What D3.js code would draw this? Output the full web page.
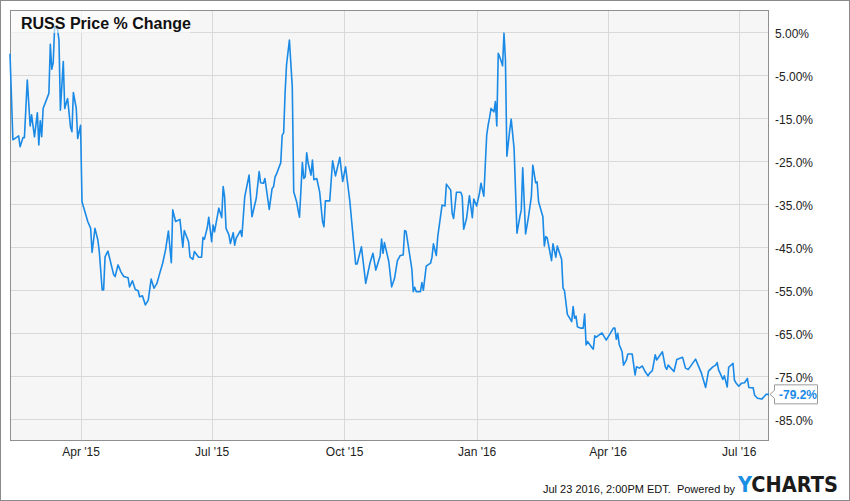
<!DOCTYPE html>
<html><head><meta charset="utf-8">
<script src="https://cdn.jsdelivr.net/npm/d3@7"></script>
<style>
html,body{margin:0;padding:0;background:#fff;}
svg{display:block;font-family:"Liberation Sans",Arial,sans-serif;}
</style></head>
<body><svg id="c" width="850" height="501"></svg>
<script>
const title = "RUSS Price % Change";
const dates = ["2015-02-11","2015-02-13","2015-02-17","2015-02-18","2015-02-20","2015-02-21","2015-02-23","2015-02-25","2015-02-26","2015-02-28",
"2015-03-02","2015-03-03","2015-03-04","2015-03-05","2015-03-06","2015-03-10","2015-03-11","2015-03-12","2015-03-13","2015-03-14",
"2015-03-15","2015-03-16","2015-03-17","2015-03-18","2015-03-20","2015-03-21","2015-03-22","2015-03-23","2015-03-25","2015-03-26",
"2015-03-27","2015-03-29","2015-03-30","2015-04-01","2015-04-02","2015-04-06","2015-04-08","2015-04-09","2015-04-11","2015-04-13",
"2015-04-14","2015-04-16","2015-04-17","2015-04-18","2015-04-20","2015-04-24","2015-04-25","2015-04-27","2015-04-29","2015-05-01",
"2015-05-04","2015-05-05","2015-05-07","2015-05-09","2015-05-11","2015-05-12","2015-05-14","2015-05-16","2015-05-18","2015-05-20",
"2015-05-22","2015-05-24","2015-05-26","2015-05-28","2015-05-30","2015-06-01","2015-06-03","2015-06-04","2015-06-06","2015-06-09",
"2015-06-11","2015-06-12","2015-06-15","2015-06-16","2015-06-18","2015-06-19","2015-06-22","2015-06-24","2015-06-25","2015-06-26",
"2015-06-28","2015-06-29","2015-07-01","2015-07-02","2015-07-03","2015-07-06","2015-07-08","2015-07-09","2015-07-10","2015-07-11",
"2015-07-13","2015-07-14","2015-07-16","2015-07-17","2015-07-18","2015-07-21","2015-07-22","2015-07-24","2015-07-27","2015-07-29",
"2015-08-01","2015-08-03","2015-08-04","2015-08-06","2015-08-07","2015-08-10","2015-08-12","2015-08-13","2015-08-14","2015-08-15",
"2015-08-18","2015-08-19","2015-08-20","2015-08-21","2015-08-22","2015-08-24","2015-08-26","2015-08-27","2015-08-29","2015-08-30",
"2015-08-31","2015-09-02","2015-09-03","2015-09-04","2015-09-05","2015-09-06","2015-09-08","2015-09-09","2015-09-10","2015-09-12",
"2015-09-14","2015-09-16","2015-09-17","2015-09-18","2015-09-21","2015-09-23","2015-09-25","2015-09-28","2015-09-30","2015-10-02",
"2015-10-05","2015-10-07","2015-10-09","2015-10-10","2015-10-13","2015-10-16","2015-10-19","2015-10-21","2015-10-23","2015-10-26",
"2015-10-27","2015-10-28","2015-10-29","2015-11-01","2015-11-03","2015-11-05","2015-11-07","2015-11-09","2015-11-11","2015-11-12",
"2015-11-13","2015-11-17","2015-11-18","2015-11-19","2015-11-20","2015-11-23","2015-11-24","2015-11-25","2015-11-27","2015-11-30",
"2015-12-01","2015-12-02","2015-12-04","2015-12-05","2015-12-08","2015-12-09","2015-12-10","2015-12-11","2015-12-14","2015-12-15",
"2015-12-16","2015-12-18","2015-12-21","2015-12-22","2015-12-23","2015-12-25","2015-12-27","2015-12-29","2015-12-30","2016-01-01",
"2016-01-03","2016-01-04","2016-01-06","2016-01-07","2016-01-08","2016-01-09","2016-01-10","2016-01-11","2016-01-13","2016-01-14",
"2016-01-15","2016-01-16","2016-01-17","2016-01-18","2016-01-19","2016-01-20","2016-01-21","2016-01-22","2016-01-24","2016-01-25",
"2016-01-27","2016-01-28","2016-01-29","2016-01-31","2016-02-01","2016-02-02","2016-02-04","2016-02-06","2016-02-08","2016-02-09",
"2016-02-11","2016-02-12","2016-02-13","2016-02-16","2016-02-17","2016-02-18","2016-02-19","2016-02-22","2016-02-23","2016-02-25",
"2016-02-26","2016-02-29","2016-03-01","2016-03-02","2016-03-04","2016-03-06","2016-03-07","2016-03-08","2016-03-09","2016-03-10",
"2016-03-11","2016-03-13","2016-03-15","2016-03-16","2016-03-17","2016-03-18","2016-03-21","2016-03-22","2016-03-23","2016-03-24",
"2016-03-28","2016-03-31","2016-04-03","2016-04-05","2016-04-06","2016-04-07","2016-04-08","2016-04-09","2016-04-11","2016-04-12",
"2016-04-14","2016-04-15","2016-04-18","2016-04-20","2016-04-21","2016-04-23","2016-04-25","2016-04-27","2016-04-29","2016-04-30",
"2016-05-02","2016-05-04","2016-05-05","2016-05-09","2016-05-11","2016-05-12","2016-05-13","2016-05-17","2016-05-19","2016-05-23",
"2016-05-25","2016-05-27","2016-06-01","2016-06-04","2016-06-05","2016-06-08","2016-06-10","2016-06-13","2016-06-15","2016-06-16",
"2016-06-17","2016-06-20","2016-06-21","2016-06-23","2016-06-24","2016-06-27","2016-06-28","2016-06-29","2016-07-01","2016-07-03",
"2016-07-05","2016-07-07","2016-07-08","2016-07-11","2016-07-12","2016-07-14","2016-07-17","2016-07-19","2016-07-20","2016-07-22"];
const values = [0,-20.0,-19.1,-21.6,-19.5,-19.5,-6.1,-16.8,-14.2,-19.3,
-13.7,-21.2,-15.6,-19.3,-12.7,-9.2,2.2,-3.6,-2.1,6.3,
6.0,5.7,3.2,-13.1,-1.8,-12.7,-11.5,-10.4,-17.0,-18.1,
-9.0,-12.7,-19.7,-16.6,-34.4,-39.0,-40.6,-46.2,-40.6,-43.3,
-46.0,-54.9,-54.9,-47.2,-45.9,-51.4,-51.8,-49.1,-50.7,-51.8,
-52.1,-54.2,-52.8,-54.8,-55.1,-56.5,-56.3,-58.4,-57.3,-52.4,
-54.5,-53.4,-51.0,-48.7,-45.6,-41.2,-48.6,-36.3,-39.0,-38.5,
-45.0,-41.1,-43.7,-47.3,-47.8,-46.0,-47.3,-47.3,-42.7,-43.1,
-40.4,-38.0,-43.7,-39.8,-41.4,-35.9,-38.1,-30.9,-33.2,-40.6,
-42.1,-44.1,-41.6,-44.5,-42.9,-41.1,-42.5,-33.2,-28.2,-37.9,
-33.6,-27.4,-30.0,-30.1,-29.0,-36.2,-31.3,-30.9,-28.7,-28.0,
-25.3,-18.9,-18.4,-9.2,-2.6,3.2,-7.7,-32.1,-34.4,-36.3,
-38.0,-25.3,-29.0,-28.6,-23.0,-25.4,-28.2,-24.7,-29.3,-29.0,
-32.1,-39.0,-40.2,-34.2,-34.2,-24.9,-28.4,-24.1,-29.7,-26.3,
-34.4,-41.7,-48.9,-48.9,-44.9,-53.4,-48.6,-46.4,-50.3,-47.0,
-43.1,-46.4,-43.9,-48.3,-54.2,-52.2,-48.1,-46.9,-46.8,-41.1,
-41.3,-50.0,-55.3,-54.3,-55.3,-55.3,-53.2,-55.0,-49.4,-48.7,
-47.3,-44.2,-46.9,-42.5,-35.2,-35.3,-35.4,-30.3,-31.7,-37.1,
-38.3,-32.2,-32.2,-33.2,-40.8,-38.3,-33.0,-38.1,-33.8,-35.4,
-32.4,-30.1,-33.1,-25.9,-18.9,-16.6,-14.8,-12.7,-13.5,-11.1,
-16.8,0.1,-0.7,-1.7,-2.8,4.8,-1.4,-23.8,-17.7,-15.2,
-22.0,-31.7,-41.7,-37.9,-36.3,-26.5,-41.9,-37.9,-33.2,-25.9,
-30.0,-29.8,-34.4,-37.9,-44.7,-42.5,-42.8,-48.1,-44.2,-47.3,
-44.7,-47.8,-54.5,-55.1,-60.6,-61.7,-62.3,-58.8,-61.5,-61.0,
-63.5,-63.8,-63.8,-60.5,-67.7,-66.9,-68.3,-68.7,-65.6,-65.9,
-64.9,-66.6,-64.9,-63.8,-63.8,-66.4,-65.0,-67.6,-69.3,-72.4,
-71.2,-69.8,-69.8,-74.7,-72.8,-73.1,-72.6,-73.9,-74.9,-74.3,
-73.7,-70.0,-71.2,-69.3,-72.8,-73.4,-72.4,-73.9,-71.1,-70.6,
-73.1,-73.4,-71.0,-73.4,-74.2,-77.6,-73.8,-72.8,-72.4,-71.8,
-73.5,-75.7,-74.9,-77.5,-72.9,-72.0,-75.9,-76.5,-77.3,-76.6,
-76.5,-75.5,-77.6,-77.7,-79.4,-80.1,-80.3,-79.6,-79.2,-79.2];
const yTicks = [5,-5,-15,-25,-35,-45,-55,-65,-75,-85];
const yTickLabels = ["5.00%","-5.00%","-15.0%","-25.0%","-35.0%","-45.0%","-55.0%","-65.0%","-75.0%","-85.0%"];
const xTicks = ["2015-04-01","2015-07-01","2015-10-01","2016-01-01","2016-04-01","2016-07-01"];
const xTickLabels = ["Apr '15","Jul '15","Oct '15","Jan '16","Apr '16","Jul '16"];
const lastLabel = "-79.2%";
const footerText = "Jul 23 2016, 2:00PM EDT.  Powered by";
const yDomain = [-90.05, 10.19];

const parse = d3.timeParse("%Y-%m-%d");
const data = dates.map((d,i)=>({date:parse(d), value:values[i]}));
const svg = d3.select("#c");
const L=10, R=769, T=10, B=441;
const blue = "#1a8ae6";

const x = d3.scaleTime().domain([data[0].date, data[data.length-1].date]).range([L,R]);
const y = d3.scaleLinear().domain(yDomain).range([B,T]);

// outer frame
svg.append("rect").attr("x",0.5).attr("y",0.5).attr("width",849).attr("height",500)
  .attr("fill","#fff").attr("stroke","#8a8a8a");
// plot bg
svg.append("rect").attr("x",L).attr("y",T).attr("width",R-L).attr("height",B-T).attr("fill","#f6f6f6");

// grid
const g = svg.append("g");
g.selectAll("line.h").data(yTicks).join("line")
  .attr("x1",L).attr("x2",R).attr("y1",d=>Math.round(y(d))+0.5).attr("y2",d=>Math.round(y(d))+0.5)
  .attr("stroke","#d9d9d9").attr("stroke-width",1);
g.selectAll("line.v").data(xTicks.map(parse)).join("line")
  .attr("y1",T).attr("y2",B).attr("x1",d=>Math.round(x(d))+0.5).attr("x2",d=>Math.round(x(d))+0.5)
  .attr("stroke","#d9d9d9").attr("stroke-width",1);

// plot border
svg.append("rect").attr("x",L+0.5).attr("y",T+0.5).attr("width",R-L-1).attr("height",B-T-1)
  .attr("fill","none").attr("stroke","#8f8f8f");

// line
const line = d3.line().x(d=>x(d.date)).y(d=>y(d.value));
svg.append("path").datum(data).attr("d",line).attr("fill","none")
  .attr("stroke",blue).attr("stroke-width",1.6).attr("stroke-linejoin","round");

// title box
svg.append("rect").attr("x",L+1).attr("y",T+1).attr("width",179).attr("height",22)
  .attr("fill","#fff").attr("fill-opacity",0.6);
svg.append("text").attr("x",21).attr("y",29).attr("font-size",16).attr("font-weight","bold")
  .attr("fill","#111").text(title);

// y axis labels (right)
const yAxis = d3.axisRight(y).tickValues(yTicks).tickSize(0).tickPadding(6)
  .tickFormat((d,i)=>yTickLabels[i]);
const ya = svg.append("g").attr("transform",`translate(${R},0)`).call(yAxis);
ya.select(".domain").remove();
ya.selectAll("text").attr("font-size",12).attr("fill","#222")
  .attr("font-family","'Liberation Sans',Arial,sans-serif").attr("dy","0.45em");

// x axis labels
const xAxis = d3.axisBottom(x).tickValues(xTicks.map(parse)).tickSize(0).tickPadding(6)
  .tickFormat((d,i)=>xTickLabels[i]);
const xa = svg.append("g").attr("transform",`translate(0,${B})`).call(xAxis);
xa.select(".domain").remove();
xa.selectAll("text").attr("font-size",12).attr("fill","#222")
  .attr("font-family","'Liberation Sans',Arial,sans-serif");

// last value label
const last = data[data.length-1];
const ly = y(last.value);
svg.append("path")
  .attr("d",`M${R+5.5},${ly-9.5} L${R+48.5},${ly-9.5} L${R+48.5},${ly+9.5} L${R+5.5},${ly+9.5} L${R+5.5},${ly+4} L${R+1},${ly} L${R+5.5},${ly-4} Z`)
  .attr("fill","#fff").attr("stroke","#9a9a9a");
svg.append("text").attr("x",R+10).attr("y",ly+4.5).attr("font-size",12).attr("font-weight","bold")
  .attr("fill",blue).text(lastLabel);

// footer
svg.append("text").attr("x",735).attr("y",493).attr("text-anchor","end").attr("font-size",11)
  .attr("fill","#111").attr("xml:space","preserve").style("white-space","pre").text(footerText);
const logo = svg.append("text").attr("x",738).attr("y",492).attr("font-size",21)
  .attr("font-weight","bold").attr("font-family","'DejaVu Sans','Liberation Sans',Arial,sans-serif")
  .attr("textLength",100).attr("lengthAdjust","spacingAndGlyphs");
logo.append("tspan").attr("fill","#1a8fe3").text("Y");
logo.append("tspan").attr("fill","#1b1b1b").text("CHARTS");
</script>
</body></html>
